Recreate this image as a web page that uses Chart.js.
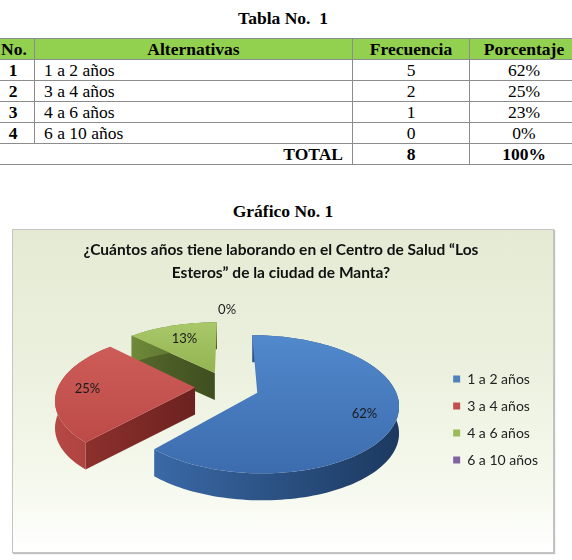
<!DOCTYPE html>
<html>
<head>
<meta charset="utf-8">
<script src="https://cdn.jsdelivr.net/npm/chart.js@4.4.1/dist/chart.umd.min.js"></script>
<style>
  body { margin: 0; width: 572px; height: 560px; background: #fff; position: relative; overflow: hidden;
         font-family: 'Liberation Serif', 'Times New Roman', serif; color: #000; }
  .caption { position: absolute; left: 0; width: 566px; text-align: center; font-weight: bold; font-size: 17.5px; line-height: 20px; }
  #tabla { position: absolute; left: -9px; top: 38px; width: 587px; border-collapse: collapse; table-layout: fixed;
           font-family: 'Liberation Serif', 'Times New Roman', serif; font-size: 17.5px; }
  #tabla td, #tabla th { border: 1px solid #8c8c8c; padding: 0 9px; height: 20px; line-height: 20px; white-space: nowrap;
                         font-family: 'Liberation Serif', 'Times New Roman', serif; }
  #tabla th { background: #92d050; text-align: center; }
  #tabla td.c { text-align: center; }
  #tabla td.b { font-weight: bold; }
  #tabla td.r { text-align: right; }
  #box { position: absolute; left: 12px; top: 229px; width: 540px; height: 322px; border: 1px solid #c4c4c4;
         background: linear-gradient(#e4ead3 0%, #ecf1df 45%, #f6f9ee 80%, #ffffff 100%);
         box-shadow: 1px 1px 1px rgba(0,0,0,0.25); }
  #box canvas { position: absolute; left: 0; top: 0; }
</style>
</head>
<body>
<div class="caption" style="top:8px">Tabla No.&nbsp; 1</div>
<table id="tabla">
  <colgroup><col style="width:43px"><col style="width:318px"><col style="width:117px"><col style="width:109px"></colgroup>
  <thead><tr><th>No.</th><th>Alternativas</th><th>Frecuencia</th><th>Porcentaje</th></tr></thead>
  <tbody id="filas"></tbody>
</table>
<div class="caption" style="top:201px">Gráfico No. 1</div>
<div id="box"><canvas id="pieChart" width="540" height="322"></canvas></div>

<script>
// table data
const categories = ['1 a 2 años', '3 a 4 años', '4 a 6 años', '6 a 10 años'];
const frecuencia = [5, 2, 1, 0];
const porcentajeTabla = ['62%', '25%', '23%', '0%'];
const totalFrecuencia = 8;
const totalPorcentaje = '100%';

// chart data (percentages shown on the pie)
const pieValues = [62, 25, 13, 0];
const pieColors = ['#4f81bd', '#c0504d', '#9bbb59', '#8064a2'];

// fill the table
const filas = document.getElementById('filas');
categories.forEach((cat, i) => {
  const tr = document.createElement('tr');
  tr.innerHTML = '<td class="c b">' + (i + 1) + '</td><td>' + cat + '</td><td class="c">' +
    frecuencia[i] + '</td><td class="c">' + porcentajeTabla[i] + '</td>';
  filas.appendChild(tr);
});
const trTotal = document.createElement('tr');
trTotal.innerHTML = '<td colspan="2" class="r b">TOTAL</td><td class="c b">' + totalFrecuencia +
  '</td><td class="c b">' + totalPorcentaje + '</td>';
filas.appendChild(trTotal);

// 3D look of the pie
const TILT = 0.49;      // vertical squash
const PERSP = 0.17;     // front bigger than back
const DEPTH = 27;       // thickness in px
const EXPLODE = 32;     // slice pull-out
const sliceStyles = [
  { top: ['#5189cc', '#3c6cae'], rim: ['#3a69a6', '#1c3960'], face: ['#2f5585', '#213f66'] },
  { top: ['#cd5c59', '#bd4a47'], rim: ['#b64845', '#93322f'], face: ['#8c302d', '#6c2220'] },
  { top: ['#a9c86a', '#93b451'], rim: ['#6f8a3a', '#4f6228'], face: ['#56692c', '#3e4e1f'] },
  { top: ['#8f76b0', '#735896'], rim: ['#5e4880', '#43335c'], face: ['#54416f', '#3d2f52'] }
];

function proj(arc, u, v, z) {
  const f = 1 + PERSP * v / arc.outerRadius;
  return [arc.x + u * f, arc.y + TILT * v * f + z];
}

function poly(ctx, pts) {
  ctx.beginPath();
  ctx.moveTo(pts[0][0], pts[0][1]);
  for (let i = 1; i < pts.length; i++) ctx.lineTo(pts[i][0], pts[i][1]);
  ctx.closePath();
}

function drawSlice(ctx, arc, st) {
  const r = arc.outerRadius;
  const a0 = arc.startAngle, a1 = arc.endAngle, mid = (a0 + a1) / 2;
  const ou = Math.cos(mid) * EXPLODE, ov = Math.sin(mid) * EXPLODE;
  const n = Math.max(2, Math.ceil((a1 - a0) / 0.03));
  const rim = [];
  for (let j = 0; j <= n; j++) {
    const a = a0 + (a1 - a0) * j / n;
    rim.push([ou + r * Math.cos(a), ov + r * Math.sin(a)]);
  }
  const top = rim.map(p => proj(arc, p[0], p[1], 0));
  const bot = rim.map(p => proj(arc, p[0], p[1], DEPTH));
  const c = proj(arc, ou, ov, 0), cb = proj(arc, ou, ov, DEPTH);
  const all = top.concat([c]);
  const xmin = Math.min(...all.map(p => p[0])), xmax = Math.max(...all.map(p => p[0]));
  const ymin = Math.min(...all.map(p => p[1])), ymax = Math.max(...all.map(p => p[1]));

  // radial faces that look toward us
  [[a0 - Math.PI / 2, 0], [a1 + Math.PI / 2, n]].forEach(([na, j]) => {
    if (Math.sin(na) <= 0.01) return;
    const g = ctx.createLinearGradient(Math.min(c[0], top[j][0]), 0, Math.max(c[0], top[j][0]), 0);
    g.addColorStop(0, st.face[0]);
    g.addColorStop(1, st.face[1]);
    ctx.fillStyle = g;
    poly(ctx, [c, top[j], bot[j], cb]);
    ctx.fill();
  });

  // outer rim
  const gr = ctx.createLinearGradient(xmin, 0, xmax, 0);
  gr.addColorStop(0, st.rim[0]);
  gr.addColorStop(1, st.rim[1]);
  ctx.fillStyle = gr;
  poly(ctx, top.concat(bot.slice().reverse()));
  ctx.fill();

  // top face
  const gt = ctx.createLinearGradient(0, ymin, 0, ymax);
  gt.addColorStop(0, st.top[0]);
  gt.addColorStop(1, st.top[1]);
  ctx.fillStyle = gt;
  poly(ctx, [c].concat(top));
  ctx.fill();
}

const pie3d = {
  id: 'pie3d',
  beforeDatasetsDraw(chart) {
    const ctx = chart.ctx;
    const arcs = chart.getDatasetMeta(0).data;
    const values = chart.data.datasets[0].data;
    // back to front
    const order = arcs.map((a, i) => i).sort((i, j) => {
      const mi = (arcs[i].startAngle + arcs[i].endAngle) / 2;
      const mj = (arcs[j].startAngle + arcs[j].endAngle) / 2;
      return Math.sin(mi) - Math.sin(mj);
    });
    ctx.save();
    order.forEach(i => {
      if (values[i] > 0) drawSlice(ctx, arcs[i], sliceStyles[i]);
    });
    // percentage labels
    ctx.font = '13px Lato';
    ctx.fillStyle = '#1a1a1a';
    ctx.textAlign = 'center';
    ctx.textBaseline = 'middle';
    arcs.forEach((arc, i) => {
      const mid = (arc.startAngle + arc.endAngle) / 2;
      const t = values[i] > 0 ? (i === 2 ? 0.68 : 0.78) : 1.34;
      const u = Math.cos(mid) * (EXPLODE + t * arc.outerRadius);
      const v = Math.sin(mid) * (EXPLODE + t * arc.outerRadius);
      const p = proj(arc, u, v, 0);
      ctx.fillText(values[i] + '%', p[0], p[1]);
    });
    ctx.restore();
    return false;
  }
};

const pieCtx = document.getElementById('pieChart').getContext('2d');
const pieChart = new Chart(pieCtx, {
  type: 'pie',
  data: {
    labels: categories,
    datasets: [{
      data: pieValues,
      backgroundColor: pieColors,
      borderWidth: 0,
      radius: 137
    }]
  },
  options: {
    responsive: false,
    animation: false,
    layout: { padding: { left: 1, right: 5, top: 0, bottom: 72 } },
    plugins: {
      title: {
        display: true,
        text: ['¿Cuántos años tiene laborando en el Centro de Salud “Los', 'Esteros” de la ciudad de Manta?'],
        font: { family: 'Lato', size: 15.5, weight: 'bold', lineHeight: 1.45 },
        color: '#111',
        padding: { top: 9, bottom: 10 }
      },
      legend: {
        position: 'right',
        align: 'end',
        labels: {
          boxWidth: 7,
          boxHeight: 7,
          padding: 13,
          color: '#222',
          font: { family: 'Lato', size: 14 }
        }
      },
      tooltip: { enabled: false }
    }
  },
  plugins: [pie3d]
});
</script>
</body>
</html>
